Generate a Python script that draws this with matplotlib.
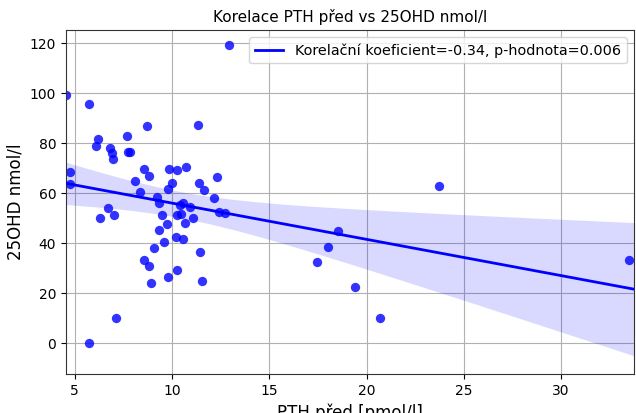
import numpy as np
import matplotlib
matplotlib.use("Agg")
import matplotlib.pyplot as plt

pth = [4.55, 4.73, 4.78, 5.73, 5.75, 6.09, 6.22, 6.32, 6.73, 6.82,
       6.90, 6.97, 7.01, 7.12, 7.69, 7.75, 7.85, 8.08, 8.34, 8.55,
       8.57, 8.69, 8.80, 8.80, 8.90, 9.07, 9.22, 9.32, 9.33, 9.50,
       9.60, 9.76, 9.80, 9.80, 9.83, 10.00, 10.23, 10.27, 10.28, 10.28,
       10.40, 10.46, 10.57, 10.57, 10.69, 10.72, 10.94, 11.08, 11.35, 11.40,
       11.44, 11.54, 11.63, 12.18, 12.32, 12.42, 12.70, 12.92, 17.43, 18.04,
       18.54, 19.41, 20.71, 23.73, 33.52]
ohd = [99.2, 63.7, 68.3, 95.6, -0.1, 78.9, 81.5, 49.9, 53.9, 78.1,
       76.1, 73.7, 51.2, 10.1, 82.8, 76.4, 76.4, 64.7, 60.5, 33.2,
       69.6, 86.9, 66.8, 30.8, 23.9, 37.9, 58.5, 55.9, 45.3, 51.2,
       40.3, 47.5, 61.5, 26.4, 69.6, 64.1, 42.4, 51.2, 69.2, 29.1,
       55.2, 51.5, 55.9, 41.7, 48.1, 70.4, 54.5, 50.1, 87.3, 63.9,
       36.5, 24.7, 61.2, 57.9, 66.5, 52.3, 51.9, 119.1, 32.3, 38.3,
       44.8, 22.5, 10.0, 62.9, 33.2]

title = "Korelace PTH před vs 25OHD nmol/l"
xlabel = "PTH před [pmol/l]"
ylabel = "25OHD nmol/l"
legend_label = "Korelační koeficient=-0.34, p-hodnota=0.006"

x = np.array(pth)
y = np.array(ohd)
n = len(x)
slope, intercept = np.polyfit(x, y, 1)
xlim = (4.55, 33.75)
xg = np.linspace(xlim[0], xlim[1], 200)
yg = intercept + slope * xg
resid = y - (intercept + slope * x)
s = np.sqrt(np.sum(resid ** 2) / (n - 2))
sxx = np.sum((x - x.mean()) ** 2)
se = s * np.sqrt(1.0 / n + (xg - x.mean()) ** 2 / sxx)
tcrit = 1.998
lo = yg - tcrit * se
hi = yg + tcrit * se

fig = plt.figure(figsize=(6.36, 4.13), dpi=100)
ax = fig.add_axes([0.1038, 0.0944, 0.893, 0.8326])
ax.grid(True, color="#b0b0b0", linewidth=0.8, zorder=0)
ax.set_axisbelow(True)
ax.fill_between(xg, lo, hi, color="blue", alpha=0.15, linewidth=0, zorder=1)
ax.scatter(x, y, color="blue", alpha=0.8, s=45, linewidths=0, zorder=2)
ax.plot(xg, yg, color="blue", linewidth=2, label=legend_label, zorder=3)
ax.set_xlim(*xlim)
ax.set_ylim(-12.4, 125.2)
ax.set_xticks([5, 10, 15, 20, 25, 30])
ax.set_yticks([0, 20, 40, 60, 80, 100, 120])
ax.tick_params(labelsize=10)
for sp in ax.spines.values():
    sp.set_color("#333333")
ax.set_title(title, fontsize=11)
ax.set_xlabel(xlabel, fontsize=12)
ax.set_ylabel(ylabel, fontsize=12)
ax.legend(loc="upper right", fontsize=10.4)
fig.savefig("out.png", dpi=100)
